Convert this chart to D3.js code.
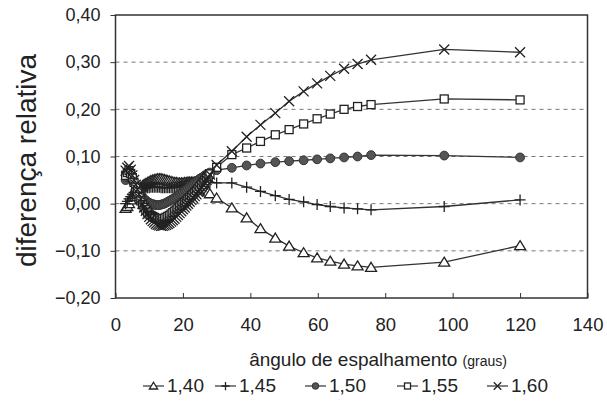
<!DOCTYPE html>
<html>
<head>
<meta charset="utf-8">
<script src="https://cdn.jsdelivr.net/npm/d3@7"></script>
<style>
  body { margin: 0; background: #fff; }
  svg text { font-family: "Liberation Sans", Arial, sans-serif; fill: #222; }
</style>
</head>
<body>
<div id="container"></div>
<script>
// angulos (graus)
const angles = [
  3, 3.5, 4, 4.5, 5, 5.5, 6, 6.5, 7, 7.5,
  8, 8.5, 9, 9.5, 10, 10.5, 11, 11.5, 12, 12.5,
  13, 13.5, 14, 14.5, 15, 15.5, 16, 16.5, 17, 17.5,
  18, 18.5, 19, 19.5, 20, 20.5, 21, 21.5, 22, 22.5,
  23, 23.5, 24, 24.5, 25, 25.5, 26, 26.5, 27, 27.5,
  28,
  30, 34.5, 38.9, 43, 47.4, 51.5, 55.8, 59.8, 63.7, 67.8, 71.8, 75.8, 97.5, 120];

const s140 = [
  -0.010, -0.006, 0.000, 0.008, 0.015, 0.020, 0.025, 0.029, 0.032, 0.035,
  0.038, 0.041, 0.043, 0.045, 0.047, 0.049, 0.050, 0.051, 0.052, 0.053,
  0.053, 0.053, 0.052, 0.051, 0.050, 0.049, 0.048, 0.047, 0.046, 0.045,
  0.045, 0.044, 0.044, 0.044, 0.044, 0.045, 0.045, 0.046, 0.046, 0.046,
  0.046, 0.046, 0.045, 0.044, 0.042, 0.039, 0.036, 0.033, 0.029, 0.025,
  0.021,
  0.012, -0.009, -0.030, -0.053, -0.073, -0.090, -0.104, -0.115, -0.122, -0.128, -0.132, -0.135, -0.124, -0.089];
const s145 = [
  0.000, 0.005, 0.010, 0.015, 0.020, 0.024, 0.027, 0.029, 0.030, 0.031,
  0.032, 0.033, 0.033, 0.034, 0.034, 0.035, 0.035, 0.035, 0.035, 0.035,
  0.035, 0.034, 0.034, 0.034, 0.034, 0.034, 0.034, 0.034, 0.034, 0.035,
  0.035, 0.036, 0.036, 0.037, 0.038, 0.039, 0.040, 0.041, 0.042, 0.043,
  0.044, 0.045, 0.045, 0.046, 0.046, 0.046, 0.046, 0.046, 0.046, 0.045,
  0.045,
  0.044, 0.044, 0.035, 0.026, 0.017, 0.009, 0.004, -0.002, -0.006, -0.009, -0.011, -0.013, -0.006, 0.008];
const s150 = [
  0.050, 0.056, 0.060, 0.057, 0.051, 0.044, 0.037, 0.030, 0.024, 0.019,
  0.014, 0.010, 0.007, 0.004, 0.002, 0.000, -0.001, -0.002, -0.003, -0.003,
  -0.003, -0.002, -0.001, 0.000, 0.002, 0.004, 0.006, 0.008, 0.010, 0.012,
  0.015, 0.017, 0.020, 0.022, 0.025, 0.028, 0.030, 0.033, 0.036, 0.039,
  0.042, 0.045, 0.047, 0.050, 0.053, 0.055, 0.057, 0.060, 0.062, 0.064,
  0.066,
  0.071, 0.076, 0.081, 0.085, 0.088, 0.090, 0.092, 0.094, 0.096, 0.098, 0.100, 0.103, 0.102, 0.098];
const s155 = [
  0.060, 0.066, 0.070, 0.064, 0.055, 0.045, 0.035, 0.025, 0.015, 0.006,
  -0.002, -0.008, -0.013, -0.018, -0.022, -0.025, -0.027, -0.029, -0.031, -0.032,
  -0.032, -0.032, -0.032, -0.031, -0.029, -0.027, -0.025, -0.022, -0.019, -0.016,
  -0.013, -0.010, -0.007, -0.004, -0.001, 0.002, 0.005, 0.009, 0.013, 0.017,
  0.020, 0.024, 0.028, 0.032, 0.036, 0.040, 0.045, 0.049, 0.054, 0.058,
  0.063,
  0.077, 0.104, 0.118, 0.132, 0.146, 0.157, 0.169, 0.180, 0.190, 0.200, 0.206, 0.210, 0.222, 0.220];
const s160 = [
  0.070, 0.076, 0.080, 0.072, 0.060, 0.050, 0.040, 0.030, 0.020, 0.010,
  0.000, -0.008, -0.015, -0.022, -0.028, -0.033, -0.037, -0.040, -0.043, -0.045,
  -0.046, -0.047, -0.047, -0.046, -0.045, -0.043, -0.041, -0.038, -0.035, -0.032,
  -0.028, -0.024, -0.020, -0.016, -0.012, -0.008, -0.004, 0.000, 0.004, 0.008,
  0.012, 0.016, 0.020, 0.025, 0.030, 0.035, 0.040, 0.045, 0.050, 0.056,
  0.062,
  0.082, 0.111, 0.142, 0.167, 0.192, 0.217, 0.238, 0.255, 0.271, 0.286, 0.296, 0.305, 0.327, 0.321];

const seriesNames = ["1,40", "1,45", "1,50", "1,55", "1,60"];
const seriesShapes = ["tri", "plus", "circle", "square", "x"];
const seriesValues = [s140, s145, s150, s155, s160];

const xTicks = [0, 20, 40, 60, 80, 100, 120, 140];
const yTicks = [-0.2, -0.1, 0, 0.1, 0.2, 0.3, 0.4];

const width = 607, height = 408;
const plotLeft = 115.5, plotRight = 587.5, plotTop = 15, plotBottom = 298;

const svg = d3.select("#container").append("svg")
  .attr("width", width).attr("height", height);

const xScale = d3.scaleLinear().domain([0, 140]).range([plotLeft, plotRight]);
const yScale = d3.scaleLinear().domain([-0.2, 0.4]).range([plotBottom, plotTop]);
const fmt = (v) => d3.format(".2f")(v).replace(".", ",");

// grade tracejada
svg.append("g").selectAll("line")
  .data(yTicks.filter((d) => d > -0.2 && d < 0.4))
  .enter().append("line")
  .attr("x1", plotLeft).attr("x2", plotRight)
  .attr("y1", (d) => yScale(d)).attr("y2", (d) => yScale(d))
  .attr("stroke", "#777").attr("stroke-width", 1)
  .attr("stroke-dasharray", "4,4");

// moldura
svg.append("rect")
  .attr("x", plotLeft).attr("y", plotTop)
  .attr("width", plotRight - plotLeft).attr("height", plotBottom - plotTop)
  .attr("fill", "none").attr("stroke", "#333").attr("stroke-width", 1.5);

// eixo y
const yAxis = d3.axisLeft(yScale).tickValues(yTicks).tickFormat(fmt).tickSize(5).tickPadding(10);
const gy = svg.append("g").attr("transform", `translate(${plotLeft},0)`).call(yAxis);
gy.select(".domain").remove();
gy.selectAll("line").attr("stroke", "#333");
gy.selectAll("text").style("font-size", "18px").attr("fill", "#222");

// eixo x
const xAxis = d3.axisBottom(xScale).tickValues(xTicks).tickSize(-5).tickPadding(20);
const gx = svg.append("g").attr("transform", `translate(0,${plotBottom})`).call(xAxis);
gx.select(".domain").remove();
gx.selectAll("line").attr("stroke", "#333");
gx.selectAll("text").style("font-size", "18.5px").attr("fill", "#222");

// titulos
svg.append("text")
  .attr("transform", `translate(36,${(plotTop + plotBottom) / 2 + 4}) rotate(-90)`)
  .attr("text-anchor", "middle")
  .style("font-size", "28px")
  .text("diferença relativa");

const xt = svg.append("text")
  .attr("x", 378).attr("y", 366)
  .attr("text-anchor", "middle")
  .style("font-size", "19px");
xt.append("tspan").text("ângulo de espalhamento ");
xt.append("tspan").style("font-size", "14px").text("(graus)");

// marcadores
function marker(sel, shape, k) {
  const h = 5 * k;
  if (shape === "circle") {
    sel.append("circle").attr("r", 4.4 * k)
      .attr("fill", "#555").attr("stroke", "#333").attr("stroke-width", 1);
  } else if (shape === "square") {
    sel.append("rect").attr("x", -4 * k).attr("y", -4 * k)
      .attr("width", 8 * k).attr("height", 8 * k)
      .attr("fill", "#fff").attr("stroke", "#222").attr("stroke-width", 1.3);
  } else if (shape === "tri") {
    sel.append("path")
      .attr("d", `M0,${-h} L${h * 1.1},${h * 0.8} L${-h * 1.1},${h * 0.8} Z`)
      .attr("fill", "#fff").attr("stroke", "#222").attr("stroke-width", 1.3);
  } else if (shape === "plus") {
    sel.append("path")
      .attr("d", `M${-h * 1.1},0 H${h * 1.1} M0,${-h * 1.1} V${h * 1.1}`)
      .attr("fill", "none").attr("stroke", "#222").attr("stroke-width", 1.3);
  } else {
    sel.append("path")
      .attr("d", `M${-h},${-h} L${h},${h} M${-h},${h} L${h},${-h}`)
      .attr("fill", "none").attr("stroke", "#222").attr("stroke-width", 1.3);
  }
}

const line = d3.line().x((d) => xScale(d[0])).y((d) => yScale(d[1]));

seriesValues.forEach((vals, si) => {
  const pts = angles.map((a, i) => [a, vals[i]]);
  const g = svg.append("g");
  g.append("path").attr("d", line(pts))
    .attr("fill", "none").attr("stroke", "#333").attr("stroke-width", 1.3);
  g.selectAll(".m").data(pts).enter().append("g")
    .attr("class", "m")
    .attr("transform", (d) => `translate(${xScale(d[0])},${yScale(d[1])})`)
    .each(function () { marker(d3.select(this), seriesShapes[si], 1); });
});

// legenda
const legendX = [143, 215, 305, 397, 487];
const legend = svg.append("g").attr("transform", "translate(0,392)");
seriesNames.forEach((name, i) => {
  const g = legend.append("g").attr("transform", `translate(${legendX[i]},0)`);
  g.append("line").attr("x1", 0).attr("x2", 21).attr("y1", -6).attr("y2", -6)
    .attr("stroke", "#333").attr("stroke-width", 1.2);
  const m = g.append("g").attr("transform", "translate(10.5,-6)");
  marker(m, seriesShapes[i], 0.75);
  g.append("text").attr("x", 24).attr("y", 0)
    .style("font-size", "19px").text(name);
});
</script>
</body>
</html>
